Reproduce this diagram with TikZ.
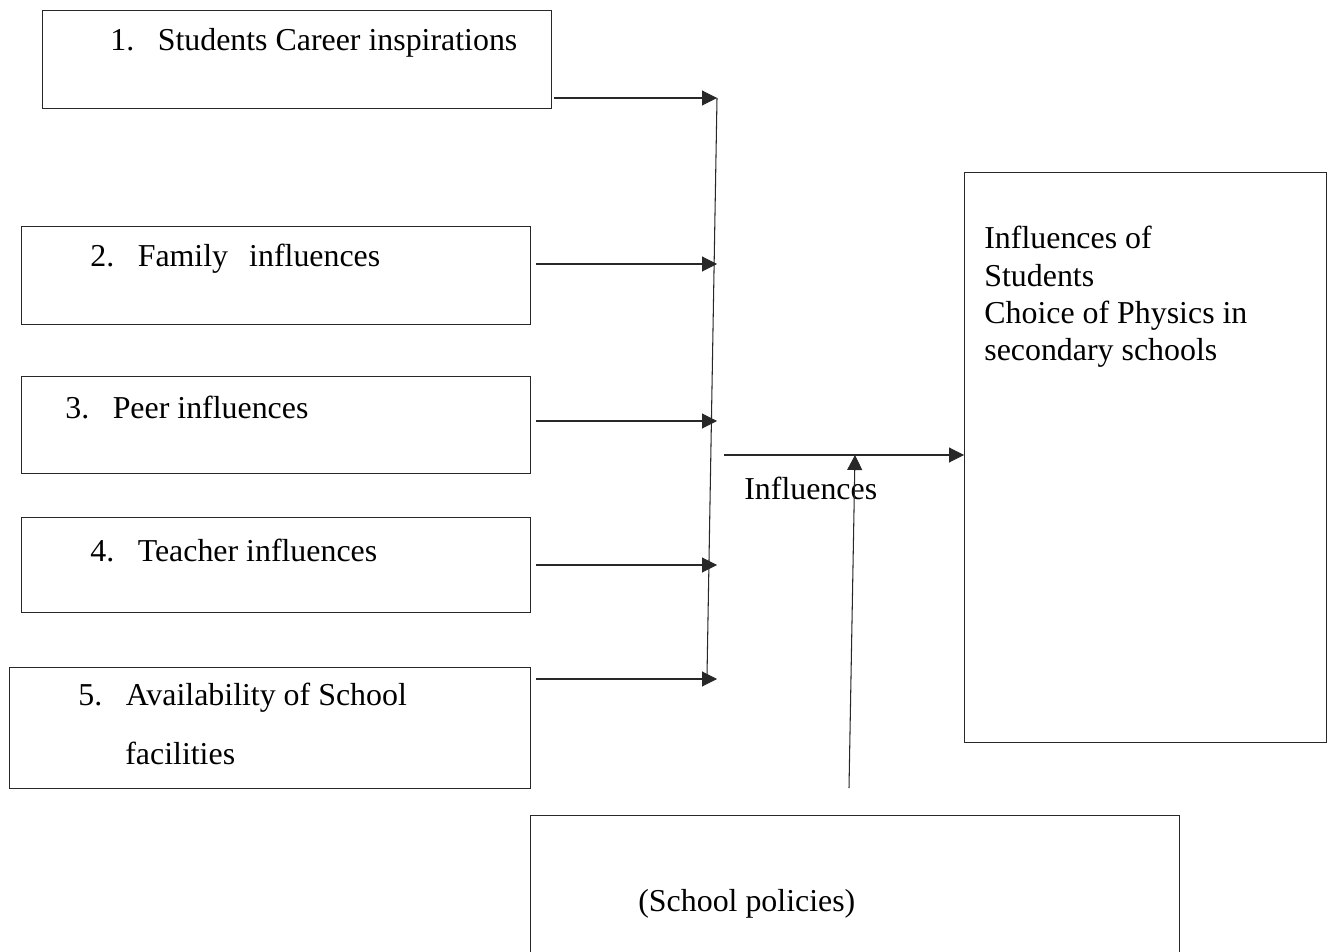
\documentclass[tikz,border=0pt]{standalone}
\usepackage{fontspec}
\setmainfont{Liberation Serif}
\usetikzlibrary{arrows.meta, positioning, calc}
\definecolor{boxline}{RGB}{40, 40, 40}
\tikzset{
    box/.style={
        rectangle, draw=boxline, line width=0.6pt, anchor=north west,
        inner sep=0pt
    },
    txt/.style={anchor=west, inner sep=0pt, font=\fontsize{18.15}{21.2}\selectfont},
    arrow/.style={-{Triangle[length=0.3cm, width=0.3cm]}, line width=0.6pt, color=boxline},
    link/.style={line width=0.6pt, color=boxline},
}
\newcommand{\itemno}[1]{\makebox[27pt][l]{#1}}

\begin{document}
\begin{tikzpicture}[x=0.02cm, y=-0.02cm]
    \useasboundingbox (0,0) rectangle (1332,952);

    \node[box, minimum width=10.18cm, minimum height=1.96cm] (career) at (42,10) {};
    \node[box, minimum width=10.18cm, minimum height=1.96cm] (family) at (21,226) {};
    \node[box, minimum width=10.18cm, minimum height=1.94cm] (peer) at (21,376) {};
    \node[box, minimum width=10.18cm, minimum height=1.90cm] (teacher) at (21,517) {};
    \node[box, minimum width=10.42cm, minimum height=2.42cm] (facilities) at (9,667) {};
    \node[box, minimum width=7.24cm, minimum height=11.40cm] (choice) at (964,172) {};
    \node[box, minimum width=12.98cm, minimum height=2.90cm] (policies) at (530,815) {};

    \node[txt] (careertext) at (110,43) {\itemno{1.}Students Career inspirations};
    \node[txt] (familytext) at (90,259) {\itemno{2.}Family\hspace{12pt}influences};
    \node[txt] (peertext) at (65,408) {\itemno{3.}Peer influences};
    \node[txt] (teachertext) at (90,550) {\itemno{4.}Teacher influences};
    \node[txt] (facilitiestext) at (78,698) {\itemno{5.}Availability of School};
    \node[txt] (facilitiestext2) at (125,753) {facilities};
    \node[txt, anchor=north west, align=left] (choicetext) at (984,226)
        {Influences of\\Students\\Choice of Physics in\\secondary schools};
    \node[txt] (policiestext) at (638,904) {(School policies)};
    \node[txt] (influencestext) at (744,488) {Influences};

    \coordinate (j1) at (717,98);
    \coordinate (j2) at (717,264);
    \coordinate (j3) at (717,421);
    \coordinate (j4) at (717,565);
    \coordinate (j5) at (717,679);
    \coordinate (jbot) at (707,676);
    \coordinate (hub) at (724,455);
    \coordinate (polfoot) at (849,788);
    \coordinate (poltip) at (855,455);

    \draw[arrow] ([xshift=0.04cm]career.east |- j1) -- (j1);
    \draw[arrow] ([xshift=0.1cm]family.east |- j2) -- (j2);
    \draw[arrow] ([xshift=0.1cm]peer.east |- j3) -- (j3);
    \draw[arrow] ([xshift=0.1cm]teacher.east |- j4) -- (j4);
    \draw[arrow] ([xshift=0.1cm]facilities.east |- j5) -- (j5);
    \draw[link] (j1) -- (jbot);
    \draw[arrow] (hub) -- (hub -| choice.west);
    \draw[arrow] (polfoot) -- (poltip);
\end{tikzpicture}
\end{document}
